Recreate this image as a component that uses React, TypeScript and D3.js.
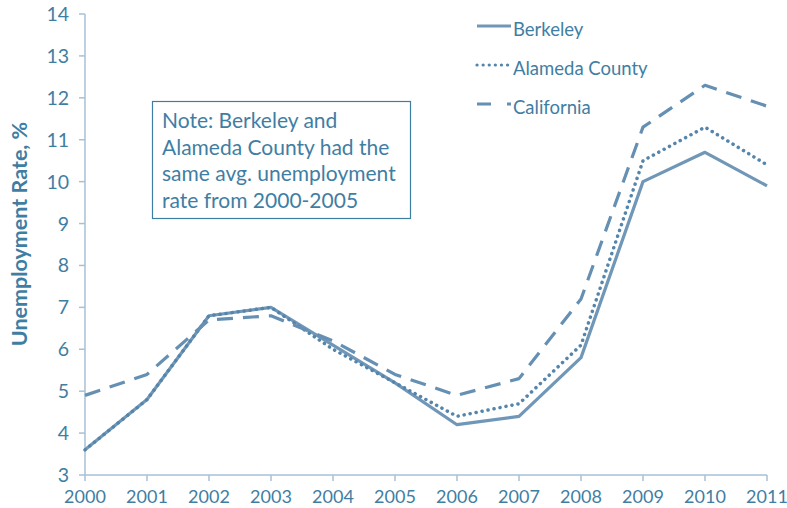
import React from "react";
import * as d3 from "d3";

const years = [2000, 2001, 2002, 2003, 2004, 2005, 2006, 2007, 2008, 2009, 2010, 2011];
const berkeley = [3.6, 4.8, 6.8, 7.0, 6.1, 5.2, 4.2, 4.4, 5.8, 10.0, 10.7, 9.9];
const alameda = [3.6, 4.8, 6.8, 7.0, 6.0, 5.2, 4.4, 4.7, 6.1, 10.5, 11.3, 10.4];
const california = [4.9, 5.4, 6.7, 6.8, 6.2, 5.4, 4.9, 5.3, 7.2, 11.3, 12.3, 11.8];
const yTicks = [3, 4, 5, 6, 7, 8, 9, 10, 11, 12, 13, 14];
const noteLines = [
  "Note: Berkeley and",
  "Alameda County had the",
  "same avg. unemployment",
  "rate from 2000-2005",
];

const W = 787, H = 508;
const FONT = "Lato, 'Open Sans', sans-serif";
const TEXT = "#3f7ea3";
const AXIS = "#a9c0d4";

const series = [
  { name: "Berkeley", values: berkeley, color: "#7097b8", dash: "", cap: "butt" },
  { name: "Alameda County", values: alameda, color: "#5585ab", dash: "0.1 6", cap: "round" },
  { name: "California", values: california, color: "#6590b3", dash: "16 10", cap: "butt" },
];

export default function App() {
  const x = d3.scaleLinear().domain([2000, 2011]).range([85, 767]);
  const y = d3.scaleLinear().domain([3, 14]).range([475, 14]);
  const line = d3.line<number>().x((_, i) => x(years[i])).y((d) => y(d));

  return (
    <svg width={W} height={H} style={{ position: "absolute", left: 0, top: 0, fontFamily: FONT }}>
      <rect width={W} height={H} fill="#fff" />
      {/* axes */}
      <line x1={x(2000)} x2={x(2000)} y1={y(14)} y2={y(3)} stroke={AXIS} strokeWidth={1.5} />
      <line x1={x(2000)} x2={x(2011)} y1={y(3)} y2={y(3)} stroke={AXIS} strokeWidth={1.5} />
      {yTicks.map((t) => (
        <g key={"y" + t}>
          <line x1={x(2000) - 6} x2={x(2000)} y1={y(t)} y2={y(t)} stroke={AXIS} strokeWidth={1.5} />
          <text x={x(2000) - 16} y={y(t)} dy="0.36em" textAnchor="end" fontSize={19.5} fill={TEXT}>
            {t}
          </text>
        </g>
      ))}
      {years.map((yr) => (
        <g key={"x" + yr}>
          <line x1={x(yr)} x2={x(yr)} y1={y(3)} y2={y(3) + 6} stroke={AXIS} strokeWidth={1.5} />
          <text x={x(yr)} y={503} textAnchor="middle" fontSize={18} fill={TEXT}>
            {yr}
          </text>
        </g>
      ))}
      <text
        transform={`translate(27,234) rotate(-90)`}
        textAnchor="middle"
        fontSize={21.5}
        fontWeight="bold"
        fill={TEXT}
      >
        Unemployment Rate, %
      </text>
      {/* lines */}
      {series.map((s) => (
        <path
          key={s.name}
          d={line(s.values) || ""}
          fill="none"
          stroke={s.color}
          strokeWidth={s.name === "Alameda County" ? 3.5 : 3.2}
          strokeDasharray={s.dash || undefined}
          strokeLinecap={s.cap as any}
          strokeLinejoin="round"
        />
      ))}
      {/* legend */}
      {series.map((s, i) => (
        <g key={"lg" + s.name} transform={`translate(477,${26 + i * 39})`}>
          <line
            x1={0}
            x2={34}
            y1={0}
            y2={0}
            stroke={s.color}
            strokeWidth={3.2}
            strokeDasharray={s.name === "California" ? "14 16" : s.dash || undefined}
            strokeLinecap={s.cap as any}
          />
          <text x={36} y={0} dy="0.55em" fontSize={18.5} fill={TEXT}>
            {s.name}
          </text>
        </g>
      ))}
      {/* note */}
      <rect x={152.5} y={101.5} width={258} height={117} fill="#fff" stroke={TEXT} strokeWidth={1.2} />
      {noteLines.map((l, i) => (
        <text key={i} x={162} y={128 + i * 26.5} fontSize={21} fill={TEXT}>
          {l}
        </text>
      ))}
    </svg>
  );
}
